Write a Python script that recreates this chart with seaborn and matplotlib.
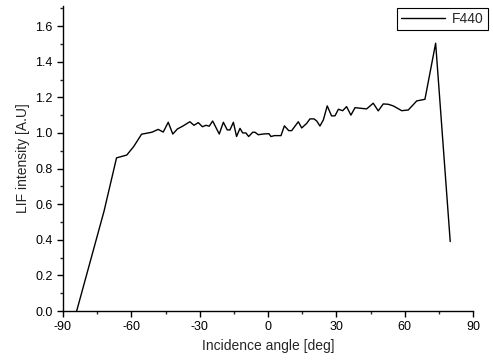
import matplotlib
matplotlib.use("Agg")
import matplotlib.pyplot as plt
import seaborn as sns
import pandas as pd
from matplotlib.ticker import MultipleLocator

angles = [-84, -72, -66.5, -62, -59, -55.5, -51, -48.2, -46, -43.8, -41.8, -39.8,
          -37.2, -34.3, -32.5, -30.6, -28.8, -27.2, -25.8, -24.3, -21.4, -19.6,
          -17.9, -16.7, -15.2, -13.8, -12.3, -11.1, -9.7, -8.5, -6.7, -5.7, -4.3,
          -2.1, 0.4, 1.3, 2.8, 5.7, 7.2, 9.1, 10.4, 13.3, 14.8, 17, 18.4, 20.2,
          21.4, 22.8, 24.3, 26, 27.9, 29.4, 30.9, 32.8, 34.5, 36.4, 38.2, 40.4,
          43.3, 46.2, 48.4, 50.6, 52.8, 55, 58.7, 61.6, 65.3, 68.9, 73.6, 80]
f440 = [0.0, 0.56, 0.86, 0.876, 0.923, 0.993, 1.004, 1.02, 1.005, 1.06, 0.994, 1.022,
        1.04, 1.063, 1.043, 1.058, 1.035, 1.043, 1.038, 1.067, 0.994, 1.06,
        1.017, 1.017, 1.06, 0.98, 1.026, 1.00, 1.00, 0.98, 1.004, 1.004, 0.99,
        0.994, 0.996, 0.98, 0.985, 0.985, 1.04, 1.013, 1.013, 1.063, 1.028, 1.054, 1.079, 1.079,
        1.067, 1.039, 1.073, 1.152, 1.096, 1.096, 1.133, 1.125, 1.148, 1.10, 1.142, 1.139,
        1.135, 1.167, 1.124, 1.163, 1.161, 1.152, 1.125, 1.129, 1.18, 1.189, 1.504, 0.39]
series_name = "F440"
x_label = "Incidence angle [deg]"
y_label = "LIF intensity [A.U]"

sns.set_style("ticks")
plt.rcParams["font.family"] = ["Liberation Sans", "DejaVu Sans"]
plt.rcParams["axes.unicode_minus"] = False

fig = plt.figure(figsize=(4.93, 3.61), dpi=100)
ax = fig.add_axes([63 / 493, 1 - 311 / 361, 410 / 493, 305 / 361])

df = pd.DataFrame({"angle": angles, "val": f440})
sns.lineplot(data=df, x="angle", y="val", estimator=None, sort=False,
             color="black", linewidth=1.0, label=series_name, ax=ax)

ax.set_xlim(-90, 90)
ax.set_ylim(0, 1.713)
ax.xaxis.set_major_locator(MultipleLocator(30))
ax.xaxis.set_minor_locator(MultipleLocator(15))
ax.yaxis.set_major_locator(MultipleLocator(0.2))
ax.yaxis.set_minor_locator(MultipleLocator(0.1))
ax.yaxis.set_major_formatter(matplotlib.ticker.FormatStrFormatter("%.1f"))
ax.tick_params(axis="both", which="major", direction="out", length=4, width=1,
               labelsize=9, colors="black")
ax.tick_params(axis="both", which="minor", direction="out", length=2.5, width=1)
for s in ["top", "right"]:
    ax.spines[s].set_visible(False)
for s in ["left", "bottom"]:
    ax.spines[s].set_color("black")
    ax.spines[s].set_linewidth(1.0)

ax.set_xlabel(x_label, fontsize=10, labelpad=4)
ax.set_ylabel(y_label, fontsize=10, labelpad=4)

leg = ax.legend(loc="upper right", bbox_to_anchor=(488 / 493, 1 - 8 / 361),
                bbox_transform=fig.transFigure, borderaxespad=0, fancybox=False,
                framealpha=1, edgecolor="black", fontsize=10, handlelength=3.2,
                handletextpad=0.5, borderpad=0.3)
leg.get_frame().set_linewidth(0.8)

fig.savefig("out.png", dpi=100)
